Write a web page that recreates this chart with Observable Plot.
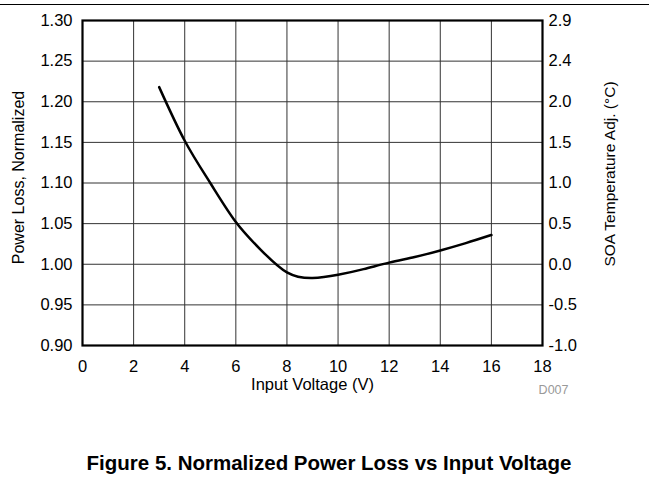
<!DOCTYPE html>
<html>
<head>
<meta charset="utf-8">
<script src="https://cdn.jsdelivr.net/npm/d3@7"></script>
<script src="https://cdn.jsdelivr.net/npm/@observablehq/plot@0.6"></script>
<style>
  html, body { margin: 0; padding: 0; background: #fff; }
  body { width: 649px; height: 479px; position: relative; overflow: hidden; font-family: "Liberation Sans", Arial, sans-serif; }
  #rule { position: absolute; left: 0; top: 4px; width: 649px; border-top: 1.5px solid #000; }
  #chart { position: absolute; left: 0; top: 0; }
  #title { position: absolute; left: 0; top: 453px; width: 640px; padding-left: 9px; text-align: center; font-weight: bold; font-size: 20.5px; line-height: 20.5px; color: #000; white-space: nowrap; }
</style>
</head>
<body>
<div id="rule"></div>
<div id="chart"></div>
<div id="title">Figure 5. Normalized Power Loss vs Input Voltage</div>
<script>
// Data
const inputVoltage = [3, 4, 5, 6, 7, 8, 9, 10, 11, 12, 13, 14, 15, 16];
const powerLoss = [1.218, 1.152, 1.100, 1.052, 1.017, 0.990, 0.983, 0.987, 0.994, 1.002, 1.009, 1.017, 1.026, 1.036];

const xTicks = [0, 2, 4, 6, 8, 10, 12, 14, 16, 18];
const yTicks = [0.90, 0.95, 1.00, 1.05, 1.10, 1.15, 1.20, 1.25, 1.30];
const rightTickLabels = ["-1.0", "-0.5", "0.0", "0.5", "1.0", "1.5", "2.0", "2.4", "2.9"];

const xLabel = "Input Voltage (V)";
const yLabel = "Power Loss, Normalized";
const y2Label = "SOA Temperature Adj. (°C)";
const figId = "D007";

const data = inputVoltage.map((v, i) => ({v, p: powerLoss[i]}));
const rightFmt = (d) => {
  const i = yTicks.findIndex(t => Math.abs(t - d) < 1e-9);
  return i >= 0 ? rightTickLabels[i] : "";
};

const chart = Plot.plot({
  width: 649,
  height: 420,
  marginLeft: 82,
  marginRight: 107,
  marginTop: 20,
  marginBottom: 75,
  style: {fontFamily: "'Liberation Sans', Arial, sans-serif", fontSize: "16.5px", color: "#000", background: "transparent"},
  x: {domain: [0, 18]},
  y: {domain: [0.9, 1.3]},
  marks: [
    Plot.ruleX(xTicks, {stroke: "#333", strokeWidth: 1}),
    Plot.ruleY(yTicks, {stroke: "#333", strokeWidth: 1}),
    Plot.axisX({ticks: xTicks, tickSize: 0, tickPadding: 15, tickFormat: d => String(d), label: null, fill: "#000"}),
    Plot.axisY({anchor: "left", ticks: yTicks, tickSize: 0, tickPadding: 10, tickFormat: d => d.toFixed(2), label: null, fill: "#000"}),
    Plot.axisY({anchor: "right", ticks: yTicks, tickSize: 0, tickPadding: 6, tickFormat: rightFmt, label: null, fill: "#000"}),
    Plot.frame({stroke: "#000", strokeWidth: 2.2}),
    Plot.line(data, {x: "v", y: "p", curve: "natural", stroke: "#000", strokeWidth: 2.5}),
    Plot.text([xLabel], {frameAnchor: "bottom", dy: 39, lineAnchor: "middle", textAnchor: "middle", text: d => d, fontSize: 16.5, fill: "#000"}),
    Plot.text([yLabel], {frameAnchor: "left", dx: -64, dy: -5.5, rotate: -90, textAnchor: "middle", lineAnchor: "middle", text: d => d, fontSize: 16, fill: "#000"}),
    Plot.text([y2Label], {frameAnchor: "right", dx: 68, dy: -9, rotate: -90, textAnchor: "middle", lineAnchor: "middle", text: d => d, fontSize: 15.5, fill: "#000"}),
    Plot.text([figId], {frameAnchor: "bottom-right", dx: 26, dy: 44, textAnchor: "end", lineAnchor: "middle", text: d => d, fontSize: 12.5, fill: "#999"})
  ]
});
document.getElementById("chart").appendChild(chart);
</script>
</body>
</html>
